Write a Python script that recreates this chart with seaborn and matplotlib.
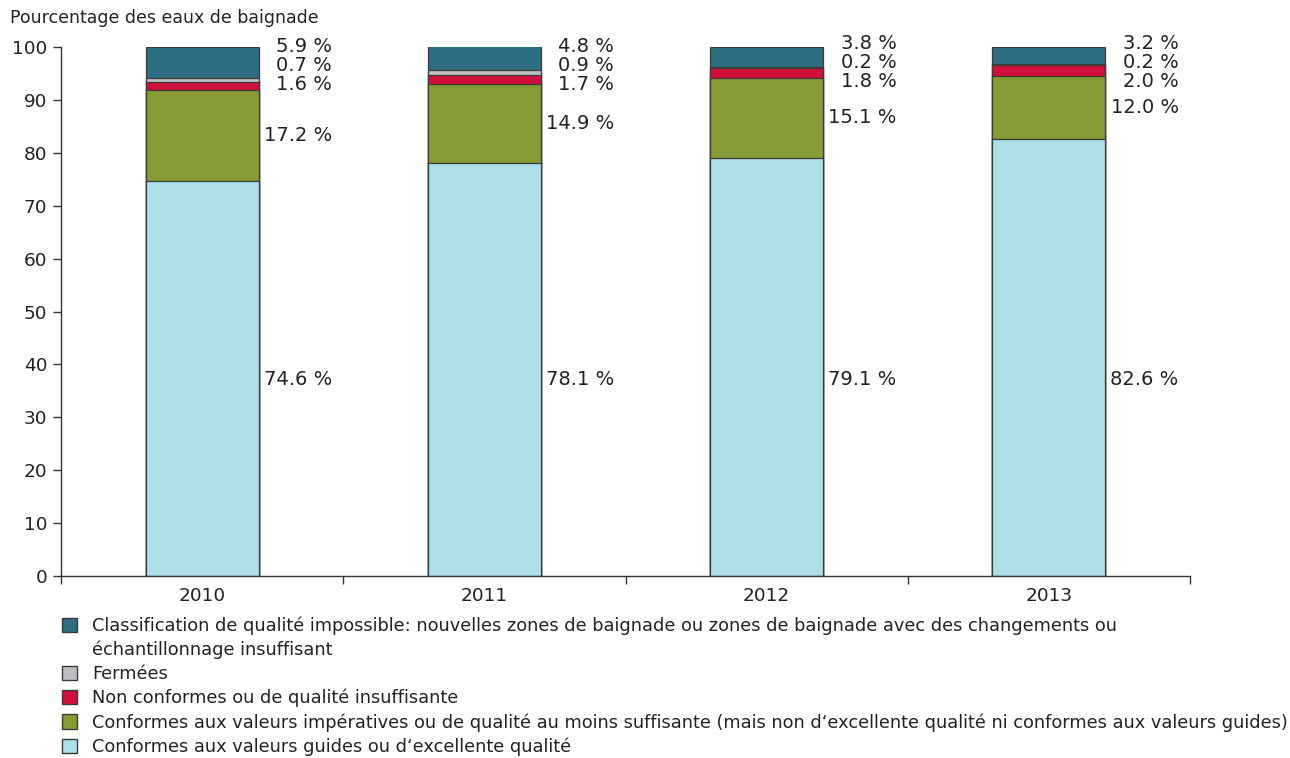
import matplotlib
matplotlib.use("Agg")
import matplotlib.pyplot as plt
from matplotlib.patches import Patch
import numpy as np
import pandas as pd
import seaborn as sns

# Data
years = ["2010", "2011", "2012", "2013"]
guides = [74.6, 78.1, 79.1, 82.6]
imperatives = [17.2, 14.9, 15.1, 12.0]
non_conformes = [1.6, 1.7, 1.8, 2.0]
fermees = [0.7, 0.9, 0.2, 0.2]
impossible = [5.9, 4.8, 3.8, 3.2]

series_names = [
    "Conformes aux valeurs guides ou d‘excellente qualité",
    "Conformes aux valeurs impératives ou de qualité au moins suffisante (mais non d‘excellente qualité ni conformes aux valeurs guides)",
    "Non conformes ou de qualité insuffisante",
    "Fermées",
    "Classification de qualité impossible: nouvelles zones de baignade ou zones de baignade avec des changements ou",
]
wrap_line = "échantillonnage insuffisant"
colors = ["#ADDFE8", "#869A36", "#D0103A", "#BDBEC2", "#2E6E82"]

sns.set_theme(style="white")
plt.rcParams['font.family'] = ['DejaVu Sans']

df = pd.DataFrame({
    "year": years,
    "s0": guides,
    "s1": imperatives,
    "s2": non_conformes,
    "s3": fermees,
    "s4": impossible,
})
cols = ["s0", "s1", "s2", "s3", "s4"]
cum = df[cols].cumsum(axis=1)

fig = plt.figure(figsize=(12.9, 7.58), dpi=100)
ax = fig.add_axes([0.0473, 0.2401, 0.8752, 0.6979])

# stacked bars: draw cumulative totals from top layer down
for i in range(len(cols) - 1, -1, -1):
    sns.barplot(x=df["year"], y=cum[cols[i]], color=colors[i], width=0.4,
                edgecolor="#3a3a3a", linewidth=0.9, saturation=1, ax=ax)

ax.set_xlim(-0.5, 3.5)
ax.set_ylim(0, 100)
ax.set_xlabel("")
ax.set_ylabel("")

ax.set_yticks(np.arange(0, 101, 10))
ax.tick_params(axis="y", length=6, width=1, color="#333333", labelsize=13.3,
               labelcolor="#222222", left=True, pad=4)
ax.set_xticks([-0.5, 0.5, 1.5, 2.5, 3.5])
ax.set_xticklabels([])
ax.tick_params(axis="x", which="major", length=6, width=1, color="#333333", bottom=True)
ax.set_xticks(range(len(years)), minor=True)
ax.set_xticklabels(years, minor=True)
ax.tick_params(axis="x", which="minor", length=0, labelsize=13.3, labelcolor="#222222", pad=8)

for s in ["top", "right"]:
    ax.spines[s].set_visible(False)
for s in ["left", "bottom"]:
    ax.spines[s].set_color("#333333")
    ax.spines[s].set_linewidth(1)

# value labels
lab_fs = 14
for j in range(len(years)):
    xr = j + 0.46
    ax.text(xr, 37.2, f"{guides[j]:.1f} %", ha="right", va="center",
            fontsize=lab_fs, color="#222222")
    ax.text(xr, guides[j] + imperatives[j] / 2, f"{imperatives[j]:.1f} %", ha="right",
            va="center", fontsize=lab_fs, color="#222222")
    top = 100.1 if j < 2 else 100.6
    for k, v in enumerate([impossible[j], fermees[j], non_conformes[j]]):
        ax.text(xr, top - k * 3.6, f"{v:.1f} %", ha="right", va="center",
                fontsize=lab_fs, color="#222222")

fig.text(0.008, 0.976, "Pourcentage des eaux de baignade", ha="left", va="center",
         fontsize=12.5, color="#222222")

handles = [Patch(facecolor=colors[4], edgecolor="#3a3a3a", linewidth=1),
           Patch(facecolor="none", edgecolor="none")]
labels = [series_names[4], wrap_line]
for i in range(3, -1, -1):
    handles.append(Patch(facecolor=colors[i], edgecolor="#3a3a3a", linewidth=1))
    labels.append(series_names[i])
fig.legend(handles, labels, loc="upper left", bbox_to_anchor=(0.048, 0.187), frameon=False,
           fontsize=12.8, handlelength=0.85, handleheight=0.85, handletextpad=0.85,
           labelspacing=0.33, borderaxespad=0, borderpad=0, labelcolor="#222222")

fig.savefig("out.png", dpi=100)
